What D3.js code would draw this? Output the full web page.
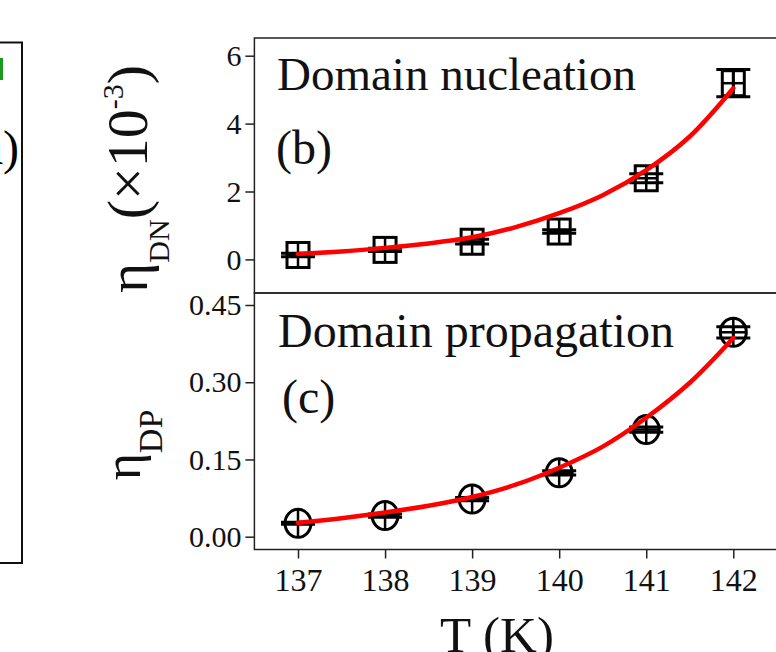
<html>
<head>
<meta charset="utf-8">
<script src="https://d3js.org/d3.v7.min.js"></script>
<style>
  body { margin: 0; background: white; }
  svg { display: block; font-family: "Liberation Serif", "Times New Roman", serif; }
</style>
</head>
<body>
<svg width="776" height="652"></svg>
<script>
// measured points
const temps = [137, 138, 139, 140, 141, 142];
const etaDN = [0.13, 0.28, 0.52, 0.82, 2.39, 5.19];
const etaDNerr = [0.05, 0.05, 0.07, 0.05, 0.13, 0.40];
const etaDP = [0.026, 0.041, 0.073, 0.124, 0.208, 0.397];
const etaDPerr = [0.002, 0.003, 0.003, 0.004, 0.005, 0.011];

// red fit curves
const fitT = [137, 137.5, 138, 138.5, 139, 139.5, 140, 140.5, 141, 141.5, 142];
const fitDN = [0.16, 0.23, 0.34, 0.47, 0.65, 0.95, 1.36, 1.89, 2.63, 3.62, 5.04];
const fitDP = [0.027, 0.036, 0.047, 0.060, 0.077, 0.101, 0.134, 0.175, 0.231, 0.299, 0.386];

const dnTicks = [0, 2, 4, 6];
const dpTicks = [0, 0.15, 0.30, 0.45];
const tTicks = [137, 138, 139, 140, 141, 142];

var svg = d3.select("svg");
var left = 254.4, right = 777;

var x = d3.scaleLinear().domain([137, 142]).range([298, 733.3]);
var yb = d3.scaleLinear().domain([0, 6]).range([259.4, 55.7]);
var yc = d3.scaleLinear().domain([0, 0.45]).range([536.7, 305]);

// piece of panel (a) at the left edge
svg.append("path")
  .attr("d", "M-2,42.5H22V563H-2")
  .attr("fill", "none").attr("stroke", "#111").attr("stroke-width", 2);
svg.append("rect").attr("x", -10).attr("y", 58).attr("width", 13).attr("height", 22)
  .attr("fill", "#1a9a1a");
svg.append("text").attr("x", 19).attr("y", 164).attr("text-anchor", "end")
  .style("font-size", "48px").text("(a)");

// frames for (b) and (c)
svg.append("rect").attr("x", left).attr("y", 38).attr("width", right - left).attr("height", 293 - 38)
  .attr("fill", "none").attr("stroke", "#222").attr("stroke-width", 1.5);
svg.append("rect").attr("x", left).attr("y", 293).attr("width", right - left).attr("height", 549.5 - 293)
  .attr("fill", "none").attr("stroke", "#222").attr("stroke-width", 1.5);

function styleAxis(g, size) {
  g.select(".domain").remove();
  g.selectAll(".tick line").attr("stroke", "#222").attr("stroke-width", 1.5);
  g.selectAll(".tick text").attr("fill", "#111")
    .style("font-family", "Liberation Serif, serif").style("font-size", size + "px");
}

var gb = svg.append("g").attr("transform", "translate(" + left + ",0)")
  .call(d3.axisLeft(yb).tickValues(dnTicks).tickSize(9).tickPadding(4).tickFormat(d3.format("d")));
styleAxis(gb, 30);

var gc = svg.append("g").attr("transform", "translate(" + left + ",0)")
  .call(d3.axisLeft(yc).tickValues(dpTicks).tickSize(9).tickPadding(4).tickFormat(d3.format(".2f")));
styleAxis(gc, 30);

var gx = svg.append("g").attr("transform", "translate(0,549.5)")
  .call(d3.axisBottom(x).tickValues(tTicks).tickSize(9).tickFormat(d3.format("d")));
styleAxis(gx, 32);
gx.selectAll(".tick text").attr("y", 41.5).attr("dy", 0);

// axis titles
var lb = svg.append("text").attr("transform", "translate(147,179) rotate(-90)")
  .attr("text-anchor", "middle").attr("fill", "#111");
lb.append("tspan").style("font-size", "58px").text("η");
lb.append("tspan").style("font-size", "30px").attr("dy", 22).text("DN");
lb.append("tspan").style("font-size", "58px").attr("dy", -22).text("(×10");
lb.append("tspan").style("font-size", "30px").attr("dy", -24).text("-3");
lb.append("tspan").style("font-size", "58px").attr("dy", 24).text(")");

var lc = svg.append("text").attr("transform", "translate(140,445) rotate(-90)")
  .attr("text-anchor", "middle").attr("fill", "#111");
lc.append("tspan").style("font-size", "52px").text("η");
lc.append("tspan").style("font-size", "34px").attr("dy", 22).text("DP");

svg.append("text").attr("x", 497).attr("y", 652).attr("text-anchor", "middle")
  .attr("fill", "#111").style("font-size", "51px").text("T (K)");

// panel texts
svg.append("text").attr("x", 277).attr("y", 90).style("font-size", "47px").attr("fill", "#111")
  .text("Domain nucleation");
svg.append("text").attr("x", 276).attr("y", 164).style("font-size", "48px").attr("fill", "#111")
  .text("(b)");
svg.append("text").attr("x", 278).attr("y", 347).style("font-size", "48px").attr("fill", "#111")
  .text("Domain propagation");
svg.append("text").attr("x", 282).attr("y", 413).style("font-size", "48px").attr("fill", "#111")
  .text("(c)");

// markers with error bars
function drawPoints(vals, errs, ys, shape) {
  var pts = temps.map(function(t, i) { return { t: t, v: vals[i], e: errs[i] }; });
  var g = svg.append("g").selectAll("g").data(pts).enter().append("g")
    .attr("stroke", "#000").attr("stroke-width", 3).attr("fill", "none");
  g.append("line")
    .attr("x1", function(d) { return x(d.t); }).attr("x2", function(d) { return x(d.t); })
    .attr("y1", function(d) { return ys(d.v - d.e); }).attr("y2", function(d) { return ys(d.v + d.e); });
  [-1, 1].forEach(function(s) {
    g.append("line")
      .attr("x1", function(d) { return x(d.t) - 17; }).attr("x2", function(d) { return x(d.t) + 17; })
      .attr("y1", function(d) { return ys(d.v + s * d.e); }).attr("y2", function(d) { return ys(d.v + s * d.e); });
  });
  var hw = shape == "square" ? 11 : 13, hh = shape == "square" ? 12.5 : 14;
  if (shape == "square") {
    g.append("rect")
      .attr("x", function(d) { return x(d.t) - hw; }).attr("y", function(d) { return ys(d.v) - hh; })
      .attr("width", 2 * hw).attr("height", 2 * hh);
  } else {
    g.append("ellipse")
      .attr("cx", function(d) { return x(d.t); }).attr("cy", function(d) { return ys(d.v); })
      .attr("rx", hw).attr("ry", hh);
  }
  g.append("line").attr("stroke-width", 2.5)
    .attr("x1", function(d) { return x(d.t); }).attr("x2", function(d) { return x(d.t); })
    .attr("y1", function(d) { return ys(d.v) - hh; }).attr("y2", function(d) { return ys(d.v) + hh; });
  g.append("line").attr("stroke-width", 2.5)
    .attr("x1", function(d) { return x(d.t) - hw; }).attr("x2", function(d) { return x(d.t) + hw; })
    .attr("y1", function(d) { return ys(d.v); }).attr("y2", function(d) { return ys(d.v); });
}
drawPoints(etaDN, etaDNerr, yb, "square");
drawPoints(etaDP, etaDPerr, yc, "circle");

// fits
function drawFit(vals, ys) {
  var line = d3.line().curve(d3.curveCatmullRom)
    .x(function(d, i) { return x(fitT[i]); })
    .y(function(d) { return ys(d); });
  svg.append("path").datum(vals).attr("d", line)
    .attr("fill", "none").attr("stroke", "#ff0000").attr("stroke-width", 4.5)
    .attr("stroke-linecap", "round");
}
drawFit(fitDN, yb);
drawFit(fitDP, yc);
</script>
</body>
</html>
